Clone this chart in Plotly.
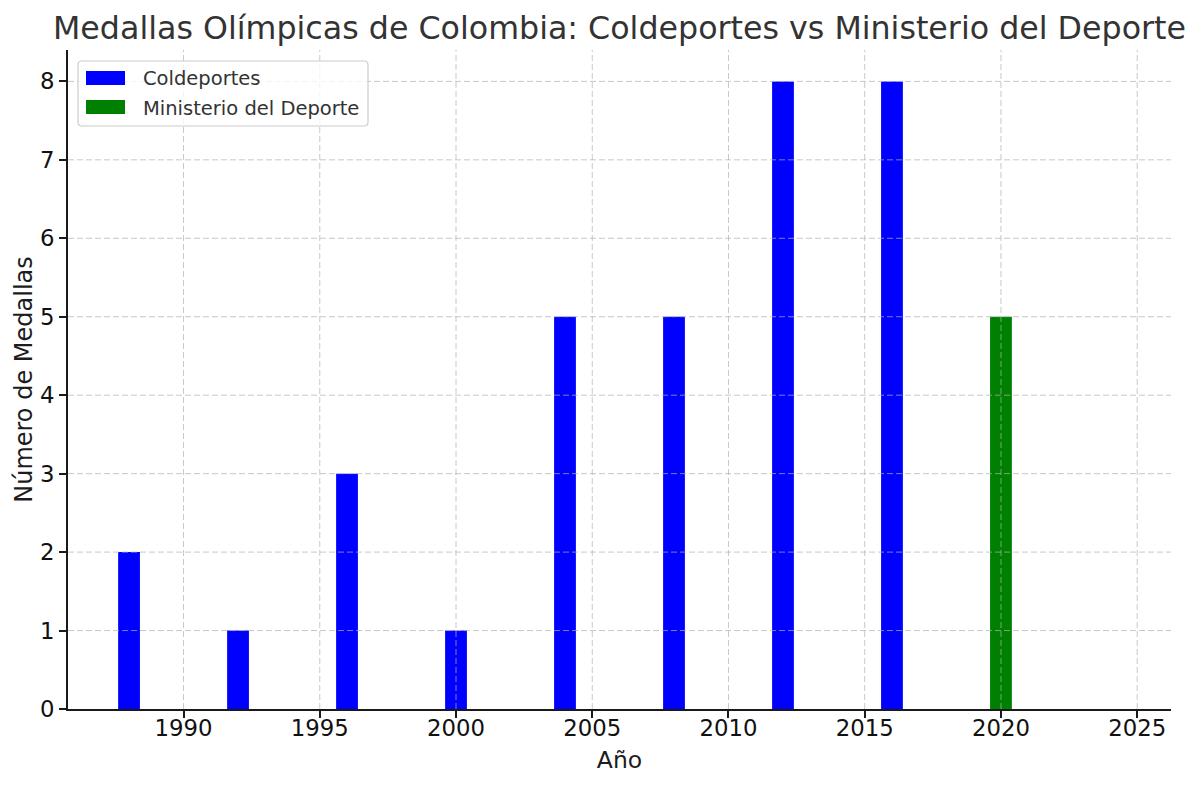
import plotly.graph_objects as go

# Data
coldeportes_years = [1988, 1992, 1996, 2000, 2004, 2008, 2012, 2016]
coldeportes_medals = [2, 1, 3, 1, 5, 5, 8, 8]
ministerio_years = [2020, 2024]
ministerio_medals = [5, 0]

x_ticks = [1990, 1995, 2000, 2005, 2010, 2015, 2020, 2025]
y_ticks = [0, 1, 2, 3, 4, 5, 6, 7, 8]

series_names = ["Coldeportes", "Ministerio del Deporte"]
series_colors = ["#0000ff", "#008000"]

FONT = "DejaVu Sans"
GRID = "rgba(176,176,176,0.7)"
TICK_COLOR = "#111111"
LABEL_COLOR = "#1c1c1c"

# plot-area geometry (px) used for the custom legend
PL, PR, PT, PB = 68, 1171, 50, 709
def px_x(v):
    return (v - PL) / (PR - PL)
def px_y(v):
    return (PB - v) / (PB - PT)

fig = go.Figure()
fig.add_trace(go.Bar(x=coldeportes_years, y=coldeportes_medals, width=0.8,
                     marker=dict(color=series_colors[0], line=dict(width=0)),
                     name=series_names[0], showlegend=False))
fig.add_trace(go.Bar(x=ministerio_years, y=ministerio_medals, width=0.8,
                     marker=dict(color=series_colors[1], line=dict(width=0)),
                     name=series_names[1], showlegend=False))

# Grid lines drawn above the bars (as in the reference)
shapes = []
for xv in x_ticks:
    shapes.append(dict(type="line", xref="x", yref="paper", x0=xv, x1=xv, y0=0, y1=1,
                       line=dict(color=GRID, width=1, dash="6px,3px"), layer="above"))
for yv in y_ticks[1:]:
    shapes.append(dict(type="line", xref="paper", yref="y", x0=0, x1=1, y0=yv, y1=yv,
                       line=dict(color=GRID, width=1, dash="6px,3px"), layer="above"))

# Custom matplotlib-style legend
bx0, bx1, by0, by1, r = 78, 368, 61, 126, 4
path = (f"M {px_x(bx0 + r)} {px_y(by0)} L {px_x(bx1 - r)} {px_y(by0)} "
        f"Q {px_x(bx1)} {px_y(by0)} {px_x(bx1)} {px_y(by0 + r)} "
        f"L {px_x(bx1)} {px_y(by1 - r)} Q {px_x(bx1)} {px_y(by1)} {px_x(bx1 - r)} {px_y(by1)} "
        f"L {px_x(bx0 + r)} {px_y(by1)} Q {px_x(bx0)} {px_y(by1)} {px_x(bx0)} {px_y(by1 - r)} "
        f"L {px_x(bx0)} {px_y(by0 + r)} Q {px_x(bx0)} {px_y(by0)} {px_x(bx0 + r)} {px_y(by0)} Z")
shapes.append(dict(type="path", xref="paper", yref="paper", path=path,
                   fillcolor="rgba(255,255,255,0.8)", line=dict(color="#cccccc", width=1.2),
                   layer="above"))
annotations = []
row_centers = [78, 107]
for name, color, cy in zip(series_names, series_colors, row_centers):
    shapes.append(dict(type="rect", xref="paper", yref="paper",
                       x0=px_x(86), x1=px_x(125), y0=px_y(cy - 7), y1=px_y(cy + 7),
                       fillcolor=color, line=dict(width=0), layer="above"))
    annotations.append(dict(text=name, xref="paper", yref="paper",
                            x=px_x(141), y=px_y(cy + 1), xanchor="left", yanchor="middle",
                            showarrow=False, font=dict(size=19.5, color="#333333", family=FONT)))

fig.update_layout(
    width=1200, height=785,
    margin=dict(l=PL, r=1200 - PR, t=PT, b=785 - PB),
    paper_bgcolor="white", plot_bgcolor="white",
    barmode="overlay",
    font=dict(family=FONT, color=TICK_COLOR),
    title=dict(text="Medallas Olímpicas de Colombia: Coldeportes vs Ministerio del Deporte",
               font=dict(size=31.7, color="#333333", family=FONT),
               xref="paper", x=0.5, xanchor="center",
               yref="container", y=1 - 28 / 785, yanchor="middle"),
    xaxis=dict(range=[1985.76, 2026.24], tickmode="array", tickvals=x_ticks,
               ticktext=[str(v) for v in x_ticks],
               showgrid=False, zeroline=False,
               showline=True, linecolor="#1a1a1a", linewidth=1.8,
               ticks="outside", ticklen=7, tickwidth=1.5, tickcolor="#1a1a1a",
               tickfont=dict(size=22.8, color=TICK_COLOR), ticklabelstandoff=-9,
               title=dict(text="Año", font=dict(size=23.5, color=LABEL_COLOR), standoff=11)),
    yaxis=dict(range=[0, 8.4], tickmode="array", tickvals=y_ticks,
               showgrid=False, zeroline=False,
               showline=True, linecolor="#1a1a1a", linewidth=1.8,
               ticks="outside", ticklen=7, tickwidth=1.5, tickcolor="#1a1a1a",
               tickfont=dict(size=22.8, color=TICK_COLOR),
               title=dict(text="Número de Medallas", font=dict(size=24, color=LABEL_COLOR), standoff=1)),
    shapes=shapes,
    annotations=annotations,
    showlegend=False,
)

fig.write_html("out.html")
